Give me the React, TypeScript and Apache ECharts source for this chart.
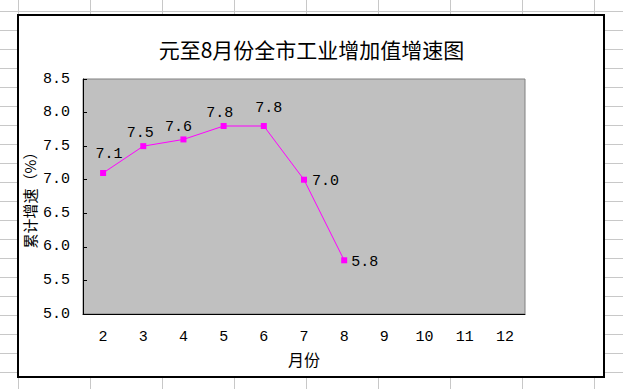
import React, { useEffect, useRef } from "react";
import * as echarts from "echarts";

const months = ["2", "3", "4", "5", "6", "7", "8", "9", "10", "11", "12"];
const growth: (number | null)[] = [7.1, 7.5, 7.6, 7.8, 7.8, 7.0, 5.8, null, null, null, null];
const yTicks = { min: 5, max: 8.5, interval: 0.5 };
const titleText = "元至8月份全市工业增加值增速图";
const xName = "月份";
const yName = "累计增速（%）";

// label placement per point (styling, not data)
const labelPlacement: { position: string; offset: [number, number] }[] = [
  { position: "top", offset: [6, -3] },
  { position: "top", offset: [-3, 3] },
  { position: "top", offset: [-5, 4] },
  { position: "top", offset: [-4, 3] },
  { position: "top", offset: [5, -2] },
  { position: "right", offset: [0, 2] },
  { position: "right", offset: [-1, 2] },
];

const NUM_FONT = "'Liberation Mono', 'Noto Sans CJK SC', monospace";
const CJK_FONT = "'Noto Sans CJK SC', sans-serif";

export default function App() {
  const ref = useRef<HTMLDivElement>(null);
  useEffect(() => {
    if (!ref.current) return;
    const chart = echarts.init(ref.current, undefined, { renderer: "svg" });
    const seriesData = growth.map((v, i) => {
      if (v === null) return null;
      const lp = labelPlacement[i];
      return {
        value: v,
        label: lp ? { position: lp.position, offset: lp.offset } : undefined,
      };
    });
    chart.setOption({
      animation: false,
      backgroundColor: "transparent",
      graphic: [
        {
          type: "rect",
          z: -10,
          shape: { x: 18, y: 15, width: 586, height: 362 },
          style: { fill: "#ffffff", stroke: "#000000", lineWidth: 2 },
        },
      ],
      title: {
        text: titleText,
        left: "center",
        top: 33,
        textStyle: { fontFamily: CJK_FONT, fontSize: 21, fontWeight: "normal", color: "#000" },
      },
      grid: {
        left: 83,
        top: 79,
        width: 442,
        height: 235,
        show: true,
        backgroundColor: "#c0c0c0",
        borderColor: "#808080",
        borderWidth: 1,
        containLabel: false,
      },
      xAxis: {
        type: "category",
        data: months,
        boundaryGap: true,
        name: xName,
        nameLocation: "middle",
        nameGap: 37,
        nameMoveOverlap: false,
        nameTextStyle: { fontFamily: CJK_FONT, fontSize: 16, color: "#000" },
        axisLine: { lineStyle: { color: "#000", width: 1 } },
        axisTick: { inside: true, length: 4, lineStyle: { color: "#000" } },
        axisLabel: { margin: 16, fontFamily: NUM_FONT, fontSize: 15, color: "#000" },
        splitLine: { show: false },
      },
      yAxis: {
        type: "value",
        min: yTicks.min,
        max: yTicks.max,
        interval: yTicks.interval,
        name: yName,
        nameLocation: "middle",
        nameRotate: 90,
        nameGap: 46,
        nameMoveOverlap: false,
        nameTextStyle: { fontFamily: CJK_FONT, fontSize: 15, color: "#000" },
        axisLine: { show: true, lineStyle: { color: "#000", width: 1 } },
        axisTick: { show: true, inside: true, length: 4, lineStyle: { color: "#000" } },
        axisLabel: {
          margin: 13,
          fontFamily: NUM_FONT,
          fontSize: 15,
          color: "#000",
          formatter: (v: number) => v.toFixed(1),
        },
        splitLine: { show: false },
      },
      series: [
        {
          type: "line",
          data: seriesData,
          connectNulls: false,
          symbol: "rect",
          symbolSize: 6,
          itemStyle: { color: "#ff00ff" },
          lineStyle: { color: "#ff00ff", width: 1 },
          label: {
            show: true,
            fontFamily: NUM_FONT,
            fontSize: 15,
            color: "#000",
            formatter: (p: any) => Number(p.value).toFixed(1),
          },
        },
      ],
    });
    return () => chart.dispose();
  }, []);

  return (
    <div
      style={{
        position: "absolute",
        left: 0,
        top: 0,
        width: 623,
        height: 389,
        backgroundColor: "#ffffff",
        backgroundImage:
          "linear-gradient(to bottom, #c8c8c8 1px, transparent 1px), linear-gradient(to right, #c8c8c8 1px, transparent 1px)",
        backgroundSize: "100% 19px, 72px 100%",
        backgroundPosition: "0 11px, 18px 0",
      }}
    >
      <div ref={ref} style={{ width: 623, height: 389 }} />
    </div>
  );
}
